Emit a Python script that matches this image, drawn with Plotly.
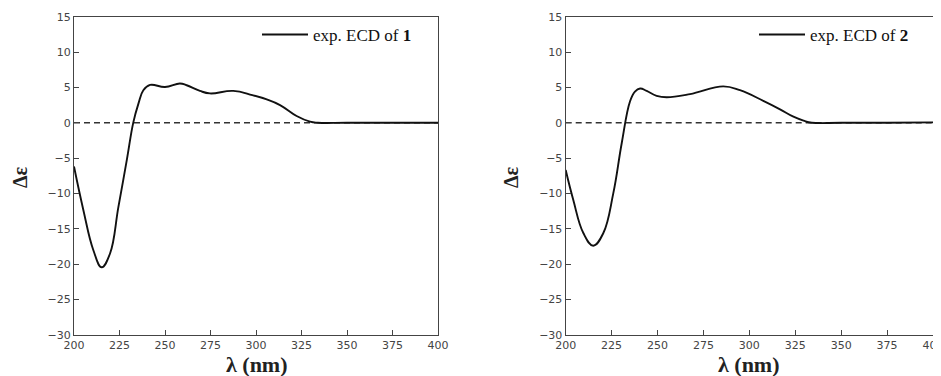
import plotly.graph_objects as go

# ---- data ----
wl1 = [200, 205.1, 210.6, 215.2, 219.8, 224.4, 229, 232.6, 235.4, 238.1, 241.8, 250, 258.2, 261.9,
       269.2, 274.7, 287.5, 298, 305.9, 313.2, 322.3, 329.7, 334, 350, 375, 400]
de1 = [-6.2, -12.3, -18.0, -20.45, -18.5, -11.9, -5.3, 0.05, 2.7, 4.6, 5.35, 5.05, 5.55, 5.3,
       4.5, 4.15, 4.5, 3.9, 3.3, 2.5, 0.95, 0.15, 0.0, 0.0, 0.0, 0.0]

wl2 = [200, 204.1, 209.6, 215, 220.5, 225.9, 230.5, 235, 237.7, 240.5, 244.1, 249.5, 255, 267.7,
       285.8, 294.9, 307.6, 316.7, 324, 329.5, 334, 350, 375, 400]
de2 = [-6.7, -10.9, -15.6, -17.4, -15.6, -10.0, -2.9, 3.0, 4.4, 4.85, 4.5, 3.8, 3.6, 4.05,
       5.15, 4.6, 3.1, 1.9, 0.85, 0.3, 0.0, 0.0, 0.0, 0.05]

legend1 = "exp. ECD of <b>1</b>"
legend2 = "exp. ECD of <b>2</b>"
xticks = [200, 225, 250, 275, 300, 325, 350, 375, 400]
yticks = [15, 10, 5, 0, -5, -10, -15, -20, -25, -30]

# page has an 8px body margin, so the figure is drawn 8px smaller and all
# page positions below are shifted by OFF
OFF = 8
W, H = 941 - OFF, 376 - OFF


def px(x):
    return (x - OFF) / W


def py(y):
    return 1 - (y - OFF) / H


fig = go.Figure()
fig.add_trace(go.Scatter(x=wl1, y=de1, mode="lines", line=dict(color="#111", width=1.9, shape="spline", smoothing=1.2),
                         name=legend1, xaxis="x", yaxis="y", legend="legend"))
fig.add_trace(go.Scatter(x=wl2, y=de2, mode="lines", line=dict(color="#111", width=1.9, shape="spline", smoothing=1.2),
                         name=legend2, xaxis="x2", yaxis="y2", legend="legend2"))

ydom = [py(334.8), py(16.7)]
xd1 = [px(74), px(438)]
xd2 = [px(565.7), px(933)]

tickfont = dict(family="DejaVu Sans", size=11, color="#444")
common_x = dict(range=[200, 400], tickvals=xticks, ticks="inside", ticklen=5, tickcolor="#444", tickwidth=1.2,
                showline=True, linecolor="#444", linewidth=1.3, mirror=True, showgrid=False, zeroline=False,
                tickfont=tickfont, automargin=False, ticklabeloverflow="allow")
common_y = dict(range=[-30, 15], tickvals=yticks, ticktext=[str(v).replace("-", "\u2212") for v in yticks],
                ticks="inside", ticklen=5, tickcolor="#444", tickwidth=1.2,
                showline=True, linecolor="#444", linewidth=1.3, mirror=True, showgrid=False, zeroline=False,
                tickfont=tickfont, automargin=False)

legfont = dict(family="Liberation Serif", size=17, color="#111")
fig.update_layout(
    width=W, height=H, margin=dict(l=0, r=0, t=0, b=0, autoexpand=False),
    paper_bgcolor="white", plot_bgcolor="white",
    xaxis=dict(domain=xd1, anchor="y", **common_x),
    yaxis=dict(domain=ydom, anchor="x", **common_y),
    xaxis2=dict(domain=xd2, anchor="y2", **common_x),
    yaxis2=dict(domain=ydom, anchor="x2", **common_y),
    legend=dict(x=px(257), y=py(17), xanchor="left", yanchor="top", itemwidth=46,
                bgcolor="rgba(0,0,0,0)", font=legfont),
    legend2=dict(x=px(754), y=py(17), xanchor="left", yanchor="top", itemwidth=46,
                 bgcolor="rgba(0,0,0,0)", font=legfont),
    showlegend=True,
)

# dashed zero line
for xr, yr in [("x", "y"), ("x2", "y2")]:
    fig.add_shape(type="line", xref=xr, yref=yr, x0=200, x1=400, y0=0, y1=0,
                  line=dict(color="#333", width=1.5, dash="6px,4px"), layer="below")

# axis titles
xtitlefont = dict(family="Liberation Serif", size=22, color="#222")
ytitlefont = dict(family="Liberation Serif", size=20, color="#222")
for cx in (256.7, 749):
    fig.add_annotation(x=px(cx), y=py(364), xref="paper", yref="paper", text="<b>λ (nm)</b>",
                       showarrow=False, font=xtitlefont, xanchor="center", yanchor="middle")
for cx in (20, 511):
    fig.add_annotation(x=px(cx), y=py(177), xref="paper", yref="paper", text="<b>Δε</b>", textangle=-90,
                       showarrow=False, font=ytitlefont, xanchor="center", yanchor="middle")

fig.write_html("out.html")
